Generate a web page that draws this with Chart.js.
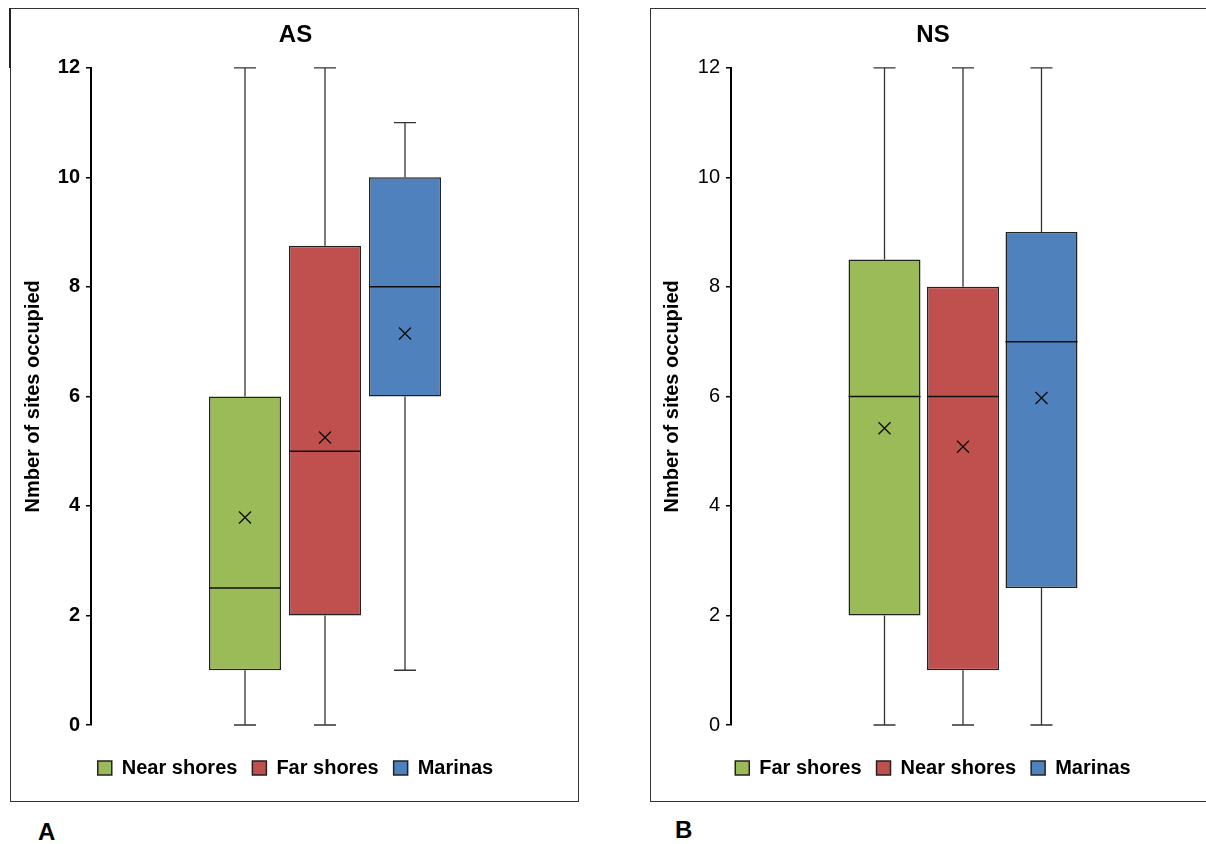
<!DOCTYPE html>
<html>
<head>
<meta charset="utf-8">
<script src="https://cdn.jsdelivr.net/npm/chart.js@4.4.1/dist/chart.umd.min.js"></script>
<style>
  body { margin: 0; background: #fff; width: 1206px; height: 844px; position: relative; overflow: hidden; font-family: "Liberation Sans", Arial, sans-serif; }
  .frame { position: absolute; border: 1px solid #333; box-sizing: border-box; }
  .wrap { position: absolute; }
  .tag { position: absolute; font-weight: bold; font-size: 24px; color: #000; }
</style>
</head>
<body>
<div class="frame" style="left:10px;top:8px;width:569px;height:794px;"></div>
<div style="position:absolute;left:9px;top:8px;width:2px;height:60px;background:#222;"></div>
<div class="frame" style="left:650px;top:8px;width:600px;height:794px;"></div>
<div class="wrap" style="left:10px;top:8px;width:549px;height:780px;"><canvas id="chartAS"></canvas></div>
<div class="wrap" style="left:650px;top:8px;width:545px;height:780px;"><canvas id="chartNS"></canvas></div>
<div class="tag" style="left:38px;top:818px;">A</div>
<div class="tag" style="left:675px;top:816px;">B</div>
<script>
/* ===============================
   DATA
================================ */
const yTicks = [0, 2, 4, 6, 8, 10, 12];

// AS panel
const asGroups = ["Near shores", "Far shores", "Marinas"];
const asMin    = [0, 0, 1];
const asQ1     = [1, 2, 6];
const asMedian = [2.5, 5, 8];
const asQ3     = [6, 8.75, 10];
const asMax    = [12, 12, 11];
const asMean   = [3.79, 5.25, 7.15];

// NS panel
const nsGroups = ["Far shores", "Near shores", "Marinas"];
const nsMin    = [0, 0, 0];
const nsQ1     = [2, 1, 2.5];
const nsMedian = [6, 6, 7];
const nsQ3     = [8.5, 8, 9];
const nsMax    = [12, 12, 12];
const nsMean   = [5.42, 5.08, 5.97];

const boxColors = ["#9BBB59", "#C0504D", "#4F81BD"];

// whiskers, medians and means drawn through the y scale
const boxExtras = {
  id: "boxExtras",
  afterDatasetsDraw(chart, args, opts) {
    const ctx = chart.ctx;
    const y = chart.scales.y;
    chart.data.datasets.forEach((ds, i) => {
      const bar = chart.getDatasetMeta(i).data[0];
      const x = bar.x, half = bar.width / 2;
      const cap = 11;
      ctx.save();
      ctx.strokeStyle = "#333";
      ctx.lineWidth = 1.3;
      ctx.beginPath();
      ctx.moveTo(x, y.getPixelForValue(opts.max[i]));
      ctx.lineTo(x, y.getPixelForValue(opts.q3[i]));
      ctx.moveTo(x, y.getPixelForValue(opts.q1[i]));
      ctx.lineTo(x, y.getPixelForValue(opts.min[i]));
      ctx.moveTo(x - cap, y.getPixelForValue(opts.max[i]));
      ctx.lineTo(x + cap, y.getPixelForValue(opts.max[i]));
      ctx.moveTo(x - cap, y.getPixelForValue(opts.min[i]));
      ctx.lineTo(x + cap, y.getPixelForValue(opts.min[i]));
      ctx.stroke();
      // median
      ctx.strokeStyle = "#111";
      ctx.lineWidth = 1.5;
      ctx.beginPath();
      ctx.moveTo(x - half, y.getPixelForValue(opts.median[i]));
      ctx.lineTo(x + half, y.getPixelForValue(opts.median[i]));
      ctx.stroke();
      // mean marker
      const my = y.getPixelForValue(opts.mean[i]);
      const s = 6;
      ctx.lineWidth = 1.4;
      ctx.beginPath();
      ctx.moveTo(x - s, my - s); ctx.lineTo(x + s, my + s);
      ctx.moveTo(x - s, my + s); ctx.lineTo(x + s, my - s);
      ctx.stroke();
      ctx.restore();
    });
  }
};

function makeBoxChart(canvasId, title, groups, mins, q1, med, q3, maxs, means, tickBold, catPct, barPct, padLeft, axisWidth) {
  new Chart(document.getElementById(canvasId), {
    type: "bar",
    data: {
      labels: [""],
      datasets: groups.map((g, i) => ({
        label: g,
        data: [[q1[i], q3[i]]],
        backgroundColor: boxColors[i],
        borderColor: "#222",
        borderWidth: 1.5,
        borderSkipped: false,
        categoryPercentage: catPct,
        barPercentage: barPct
      }))
    },
    options: {
      responsive: true,
      maintainAspectRatio: false,
      animation: false,
      layout: { padding: { top: 0, left: padLeft, right: 0, bottom: 0 } },
      plugins: {
        title: {
          display: true,
          text: title,
          color: "#000",
          font: { family: "Liberation Sans", size: 24, weight: "bold" },
          padding: { top: 13, bottom: 18 }
        },
        legend: {
          position: "bottom",
          labels: {
            color: "#000",
            boxWidth: 14,
            boxHeight: 14,
            padding: 15,
            font: { family: "Liberation Sans", size: 20, weight: "bold" }
          }
        },
        tooltip: { enabled: false },
        boxExtras: { min: mins, q1: q1, median: med, q3: q3, max: maxs, mean: means }
      },
      scales: {
        x: {
          grid: { display: false },
          border: { display: false },
          ticks: { display: false },
          afterFit: s => { s.height = 18; }
        },
        y: {
          min: 0,
          max: 12,
          afterFit: s => { s.width = axisWidth; },
          afterBuildTicks: s => { s.ticks = yTicks.map(v => ({ value: v })); },
          grid: { drawOnChartArea: false, tickLength: 5, color: "#000", lineWidth: 1.5 },
          border: { color: "#000", width: 2 },
          ticks: {
            color: "#000",
            padding: 6,
            font: { family: "Liberation Sans", size: 20, weight: tickBold ? "bold" : "normal" }
          },
          title: {
            display: true,
            text: "Nmber of sites occupied",
            color: "#000",
            font: { family: "Liberation Sans", size: 20, weight: "bold" },
            padding: { top: -10.4, bottom: 0 }
          }
        }
      }
    },
    plugins: [boxExtras]
  });
}

makeBoxChart("chartAS", "AS", asGroups, asMin, asQ1, asMedian, asQ3, asMax, asMean, true, 0.5128, 0.9, 22, 59);
makeBoxChart("chartNS", "NS", nsGroups, nsMin, nsQ1, nsMedian, nsQ3, nsMax, nsMean, false, 0.5075, 0.917, 21, 60);
</script>
</body>
</html>
